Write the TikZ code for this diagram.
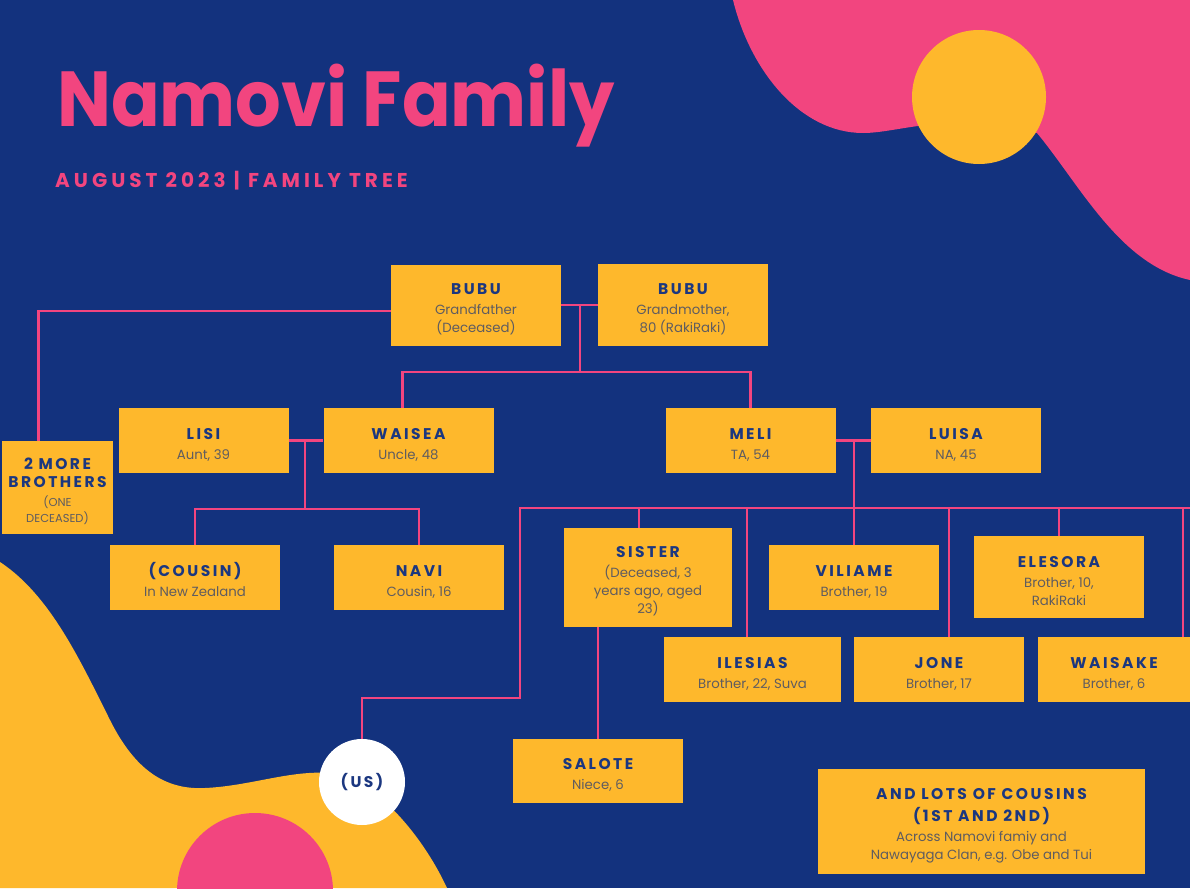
\documentclass[tikz,border=0pt]{standalone}
\usepackage{graphicx}
\usepackage{fontspec}
\setmainfont{Poppins}
\newfontfamily\spacedfont{Poppins}[LetterSpace=16]
\newfontfamily\widefont{Poppins}[LetterSpace=20]
\usetikzlibrary{positioning}

\definecolor{navybg}{HTML}{13327E}
\definecolor{hotpink}{HTML}{F2457F}
\definecolor{boxyellow}{HTML}{FEB82C}
\definecolor{headnavy}{HTML}{1B3780}
\definecolor{bodygrey}{HTML}{5F5C60}

\newcommand{\pname}[1]{{\spacedfont\bfseries\fontsize{15.5}{20}\selectfont\color{headnavy}#1}}
\newcommand{\pfirst}[1]{\rule{0pt}{19pt}\pname{#1}}
\newcommand{\psmall}[1]{{\fontsize{11.5}{16}\selectfont #1}}

\tikzset{
  person/.style={fill=boxyellow, inner sep=0pt, align=center, minimum width=170pt,
    minimum height=65pt, font=\fontsize{13.3}{18}\selectfont, text=bodygrey},
  famline/.style={draw=hotpink, line width=2.2pt},
}

\begin{document}
\begin{tikzpicture}[x=1pt, y=-1pt]
  \useasboundingbox (0,0) rectangle (1190,888);
  % background and blobs
  \fill[navybg] (0,0) rectangle (1190,888);
  \fill[hotpink] (733,0) .. controls (750,70) and (800,133) .. (863,133)
    .. controls (900,133) and (950,110) .. (1037,133)
    .. controls (1080,185) and (1120,265) .. (1190,280) -- (1190,0) -- cycle;
  \fill[boxyellow] (979,97) circle[radius=67];
  \fill[boxyellow] (0,562) .. controls (50,595) and (80,660) .. (110,720)
    .. controls (135,770) and (165,790) .. (205,788)
    .. controls (250,786) and (290,770) .. (330,773)
    .. controls (370,776) and (420,830) .. (447,888) -- (0,888) -- cycle;
  \fill[hotpink] (255,891) circle[radius=78];

  % title
  \node[anchor=base west, inner sep=0pt, text=hotpink, font=\bfseries\fontsize{78}{80}\selectfont] (title) at (57,127) {\scalebox{0.92}[1]{Namovi Family}};
  \node[anchor=base west, inner sep=0pt, text=hotpink, font=\widefont\bfseries\fontsize{20}{24}\selectfont] (subtitle) at (55,187) {AUGUST 2023 | FAMILY TREE};

  % people
  \node[person, minimum height=81pt] (bubuF) at (476,305) {\pfirst{BUBU}\\[2pt]Grandfather\\(Deceased)};
  \node[person, minimum height=82pt] (bubuM) at (683,305) {\pfirst{BUBU}\\[2pt]Grandmother,\\80 (RakiRaki)};
  \node[person] (lisi) at (203.5,440.5) {\pfirst{LISI}\\[2pt]Aunt, 39};
  \node[person] (waisea) at (408.5,440.5) {\pfirst{WAISEA}\\[2pt]Uncle, 48};
  \node[person] (meli) at (750.5,440.5) {\pfirst{MELI}\\[2pt]TA, 54};
  \node[person] (luisa) at (956,440.5) {\pfirst{LUISA}\\[2pt]NA, 45};
  \node[person, minimum width=111pt, minimum height=93pt] (brothers) at (57.5,487.5) {\pfirst{2 MORE}\\\pname{BROTHERS}\\[1pt]\psmall{(ONE}\\[-2pt]\psmall{DECEASED)}};
  \node[person] (cousin) at (195,577.5) {\pfirst{(COUSIN)}\\[2pt]In New Zealand};
  \node[person] (navi) at (419,577.5) {\pfirst{NAVI}\\[2pt]Cousin, 16};
  \node[person, minimum width=168pt, minimum height=99pt] (sister) at (648,577.5) {\pfirst{SISTER}\\[2pt](Deceased, 3\\years ago, aged\\23)};
  \node[person] (viliame) at (854,577.5) {\pfirst{VILIAME}\\[2pt]Brother, 19};
  \node[person, minimum height=82pt] (elesora) at (1059,577) {\pfirst{ELESORA}\\[2pt]Brother, 10,\\RakiRaki};
  \node[person, minimum width=177pt] (ilesias) at (752.5,669.5) {\pfirst{ILESIAS}\\[2pt]Brother, 22, Suva};
  \node[person] (jone) at (939,669.5) {\pfirst{JONE}\\[2pt]Brother, 17};
  \node[person, minimum width=152pt] (waisake) at (1114,669.5) {\pfirst{WAISAKE}\\[2pt]Brother, 6};
  \node[person, minimum height=64pt] (salote) at (598,771) {\pfirst{SALOTE}\\[2pt]Niece, 6};
  \node[person, minimum width=327pt, minimum height=105pt] (cousins) at (981.5,821.5) {\pfirst{AND LOTS OF COUSINS}\\[4pt]\pname{(1ST AND 2ND)}\\[2pt]Across Namovi famiy and\\Nawayaga Clan, e.g. Obe and Tui};
  \node[circle, fill=white, minimum size=86pt, inner sep=0pt] (us) at (362,782) {\pname{(US)}};

  % grandparents
  \draw[famline] (bubuF.east) -- (bubuM.west);
  \coordinate (gpjoin) at (580,305);
  \coordinate (gpbar) at (580,372);
  \draw[famline] (gpjoin) -- (gpbar);
  \draw[famline] ([xshift=-6pt]waisea.north) |- (gpbar) -| (meli.north);
  \draw[famline] ([yshift=-6pt]bubuF.west) -| ([xshift=-19pt]brothers.north);

  % lisi and waisea
  \draw[famline] (lisi.east) -- (waisea.west);
  \coordinate (lwjoin) at (305,440.5);
  \coordinate (lwbar) at (305,509);
  \draw[famline] (lwjoin) -- (lwbar);
  \draw[famline] (cousin.north) |- (lwbar) -| (navi.north);

  % meli and luisa
  \draw[famline] (meli.east) -- (luisa.west);
  \coordinate (mljoin) at (854,440.5);
  \draw[famline] (mljoin) -- (viliame.north);
  \coordinate (kidsL) at (520,508);
  \coordinate (kidsR) at (1190,508);
  \coordinate (usbend) at (520,698);
  \draw[famline] (kidsR) -- (kidsL) -- (usbend) -| (us.north);
  \draw[famline] ([xshift=-9pt]sister.north) -- ([xshift=-9pt]sister.north |- kidsL);
  \draw[famline] ([xshift=-5.5pt]ilesias.north) -- ([xshift=-5.5pt]ilesias.north |- kidsL);
  \draw[famline] ([xshift=10pt]jone.north) -- ([xshift=10pt]jone.north |- kidsL);
  \draw[famline] (elesora.north) -- (elesora.north |- kidsL);
  \draw[famline] ([xshift=69pt]waisake.north) -- ([xshift=69pt]waisake.north |- kidsL);
  \draw[famline] (salote.north) -- (salote.north |- sister.south);
\end{tikzpicture}
\end{document}
